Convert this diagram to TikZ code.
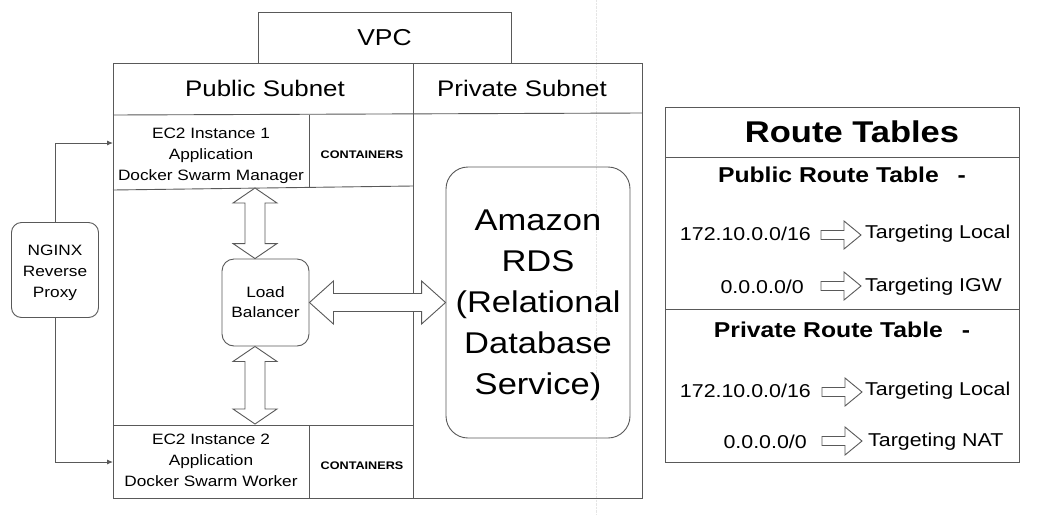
\documentclass[tikz,border=0pt]{standalone}
\usepackage{fontspec}
\setmainfont[FakeStretch=1.15]{Liberation Sans}
\usetikzlibrary{arrows.meta,calc}

\newcommand\fsz[2]{\fontsize{#1}{#2}\selectfont}
\tikzset{
  ln/.style={draw=black!65, line width=0.9pt},
  txt/.style={inner sep=0pt, align=center, text=black},
  rbox/.style={ln, rounded corners=#1, inner sep=0pt, align=center},
  blk/.style={ln, fill=white, line join=miter},
  flow/.style={ln, -{Latex[length=6pt,width=5pt]}},
  rarr/.pic={\draw[blk] (-20pt,4.5pt) -- (3pt,4.5pt) -- (3pt,14pt) -- (20pt,0pt) -- (3pt,-14pt) -- (3pt,-4.5pt) -- (-20pt,-4.5pt) -- cycle;}
}
% vertical double block arrow between two points with the same x
\newcommand\mkVarrow[2]{\draw[blk] let \p1=(#1), \p2=(#2) in
  (\x1,\y1) -- ++(22pt,-15pt) -- ++(-12pt,0pt) -- (\x1+10pt,\y2+15pt) -- ++(12pt,0pt)
  -- (\x2,\y2) -- ++(-22pt,15pt) -- ++(12pt,0pt) -- (\x1-10pt,\y1-15pt) -- ++(-12pt,0pt) -- cycle;}
% horizontal double block arrow between two points with the same y
\newcommand\mkHarrow[2]{\draw[blk] let \p1=(#1), \p2=(#2) in
  (\x1,\y1) -- ++(24pt,21.5pt) -- ++(0pt,-12.5pt) -- (\x2-24pt,\y1+9pt) -- ++(0pt,12.5pt)
  -- (\x2,\y1) -- ++(-24pt,-21.5pt) -- ++(0pt,12.5pt) -- (\x1+24pt,\y1-9pt) -- ++(0pt,-12.5pt) -- cycle;}

\begin{document}
\begin{tikzpicture}[x=1pt,y=-1pt]
\useasboundingbox (0,0) rectangle (1047,515);
\fill[white] (0,0) rectangle (1047,515);
\draw[black!10, densely dotted] (596,0) -- (596,515);

% VPC
\node[ln, txt, minimum width=253pt, minimum height=51pt, font=\fsz{23}{27}] (vpc) at (384.5,37.5) {VPC};
\draw[ln] (113,63) rectangle (642,498);
\draw[ln] (413,63) -- (413,498);
\draw[ln] (113,115) -- (642,113);
\node[txt, font=\fsz{22.5}{27}] (pub) at (265,88) {Public Subnet};
\node[txt, font=\fsz{22.5}{27}] (priv) at (522,88) {Private Subnet};

% EC2 instance 1
\draw[ln] (309,114.5) -- (309,187.5);
\draw[ln] (113,190) -- (413,186);
\node[txt, font=\fsz{15}{21}] (ec1) at (211,156) {EC2 Instance 1\\Application\\Docker Swarm Manager};
\node[txt, font=\bfseries\fsz{11}{13}] (ec1c) at (362,155) {CONTAINERS};
\coordinate (ec1in) at (113,143);
\coordinate (ec1out) at (255,188);

% EC2 instance 2
\draw[ln] (113,425) -- (413,425);
\draw[ln] (309,425) -- (309,498);
\node[txt, font=\fsz{15}{21}] (ec2) at (211,460.5) {EC2 Instance 2\\Application\\Docker Swarm Worker};
\node[txt, font=\bfseries\fsz{11}{13}] (ec2c) at (362,466) {CONTAINERS};
\coordinate (ec2in) at (113,462);
\coordinate (ec2out) at (255,424);

% NGINX
\node[rbox=10pt, minimum width=87pt, minimum height=95pt] (nginx) at (55,270) {};
\node[txt, font=\fsz{15}{21}] (nginxtxt) at (55,272.5) {NGINX\\Reverse\\Proxy};
\draw[flow] (nginx.north) |- (ec1in);
\draw[flow] (nginx.south) |- (ec2in);

% Load balancer
\node[rbox=12pt, minimum width=87pt, minimum height=87pt, font=\fsz{15}{20}] (lb) at (265.5,302.5) {Load\\Balancer};

% RDS
\node[rbox=22pt, minimum width=184pt, minimum height=271pt] (rds) at (538,302.5) {};
\node[txt, font=\fsz{30}{41}] (rdstxt) at (538,305.5) {Amazon\\RDS\\(Relational\\Database\\Service)};

% block arrows
\mkVarrow{ec1out}{ec1out |- lb.north}
\mkVarrow{ec1out |- lb.south}{ec2out}
\mkHarrow{lb.east}{rds.west}

% Route tables
\draw[ln] (665,107) rectangle (1019,462);
\draw[ln] (665,157) -- (1019,157);
\draw[ln] (665,309) -- (1019,309);
\node[txt, font=\bfseries\fsz{30}{34}] (rt) at (852,132) {Route Tables};
\node[txt, font=\bfseries\fsz{21.5}{25}] (pubrt) at (842,175) {Public Route Table\hspace{19pt}-};
\node[txt, font=\bfseries\fsz{21.5}{25}] (privrt) at (842,330) {Private Route Table\hspace{19pt}-};

\node[txt, anchor=east, font=\fsz{18.6}{22}] (r1a) at (811,234) {172.10.0.0/16};
\pic (r1x) at (841,235) {rarr};
\node[txt, anchor=west, font=\fsz{18.6}{22}] (r1b) at (865,234) {Targeting Local};

\node[txt, anchor=east, font=\fsz{18.6}{22}] (r2a) at (804,287) {0.0.0.0/0};
\pic (r2x) at (841,286) {rarr};
\node[txt, anchor=west, font=\fsz{18.6}{22}] (r2b) at (865,287) {Targeting IGW};

\node[txt, anchor=east, font=\fsz{18.6}{22}] (r3a) at (811,391) {172.10.0.0/16};
\pic (r3x) at (842,392) {rarr};
\node[txt, anchor=west, font=\fsz{18.6}{22}] (r3b) at (865,391) {Targeting Local};

\node[txt, anchor=east, font=\fsz{18.6}{22}] (r4a) at (807,442) {0.0.0.0/0};
\pic (r4x) at (842,441) {rarr};
\node[txt, anchor=west, font=\fsz{18.6}{22}] (r4b) at (868,442) {Targeting NAT};
\end{tikzpicture}
\end{document}
